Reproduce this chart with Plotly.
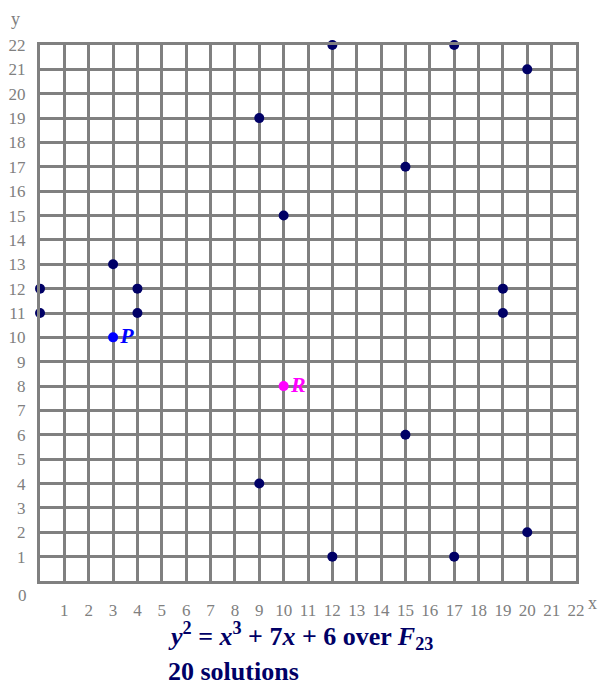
import plotly.graph_objects as go

# Data: solutions of y^2 = x^3 + 7x + 6 over F_23
xs = [0, 0, 3, 4, 4, 9, 9, 10, 12, 12, 15, 15, 17, 17, 19, 19, 20, 20]
ys = [11, 12, 13, 12, 11, 19, 4, 15, 22, 1, 17, 6, 22, 1, 12, 11, 21, 2]
p_point = (3, 10)
r_point = (10, 8)
ticks = list(range(1, 23))

navy = "#000066"
gray = "#808080"
serif = "Liberation Serif"

fig = go.Figure()
fig.add_trace(go.Scatter(x=xs, y=ys, mode="markers",
                         marker=dict(size=10, color=navy), cliponaxis=False,
                         hoverinfo="x+y"))
fig.add_trace(go.Scatter(x=[p_point[0]], y=[p_point[1]], mode="markers+text",
                         marker=dict(size=10, color="#0000ff"),
                         text=["<b><i>P</i></b>"], textposition="middle right",
                         textfont=dict(family=serif, size=22, color="#0000ff"),
                         cliponaxis=False))
fig.add_trace(go.Scatter(x=[r_point[0]], y=[r_point[1]], mode="markers+text",
                         marker=dict(size=10, color="#ff00ff"),
                         text=["<b><i>R</i></b>"], textposition="middle right",
                         textfont=dict(family=serif, size=22, color="#ff00ff"),
                         cliponaxis=False))

axis_common = dict(range=[0, 22], tickvals=ticks, ticktext=[str(t) for t in ticks],
                   showgrid=True, gridcolor=gray, gridwidth=3, zeroline=False,
                   showline=True, linecolor=gray, linewidth=3, mirror=True,
                   ticks="", tickfont=dict(family=serif, size=17, color=gray),
                   fixedrange=True, automargin=False)

# page body has an 8px default margin, so the figure is offset by 8px
OFF = 8
W, H = 607 - 2 * OFF, 685 - OFF
L, T = 40 - OFF, 45 - OFF
R = W - L - 536
B = H - T - 536
fig.update_layout(
    width=W, height=H,
    margin=dict(l=L, r=R, t=T, b=B, autoexpand=False),
    plot_bgcolor="white", paper_bgcolor="white",
    showlegend=False,
    xaxis=dict(**axis_common, ticklabelstandoff=12),
    yaxis=dict(**axis_common, ticklabelstandoff=8),
)

annos = [
    dict(x=0, y=0, xref="x", yref="y", text="0", showarrow=False,
         xshift=-18, yshift=-14, font=dict(family=serif, size=17, color=gray)),
    dict(x=-0.0, y=1.0, xref="paper", yref="paper", text="y", showarrow=False,
         xanchor="right", yanchor="bottom", xshift=-18, yshift=14,
         font=dict(family=serif, size=18, color=gray)),
    dict(x=1.0, y=0, xref="paper", yref="paper", text="x", showarrow=False,
         xanchor="right", yanchor="middle", xshift=R, yshift=-22,
         font=dict(family=serif, size=18, color=gray)),
    dict(x=166, y=636, xref="paper", yref="paper", showarrow=False,
         text="<b><i>y</i><sup>2</sup> = <i>x</i><sup>3</sup> + 7<i>x</i> + 6 over <i>F</i><sub>23</sub></b>",
         font=dict(family=serif, size=26, color=navy)),
    dict(x=166, y=671, xref="paper", yref="paper", showarrow=False,
         text="<b>20 solutions</b>",
         font=dict(family=serif, size=26, color=navy)),
]
pw, ph = 536, 536
for a in annos[3:]:
    px, py = a["x"], a["y"]
    a["x"] = (px - 40) / pw
    a["y"] = 1 - (py - 45) / ph
    a["xanchor"] = "left"
    a["yanchor"] = "middle"
fig.update_layout(annotations=annos)

fig.write_html("out.html")
